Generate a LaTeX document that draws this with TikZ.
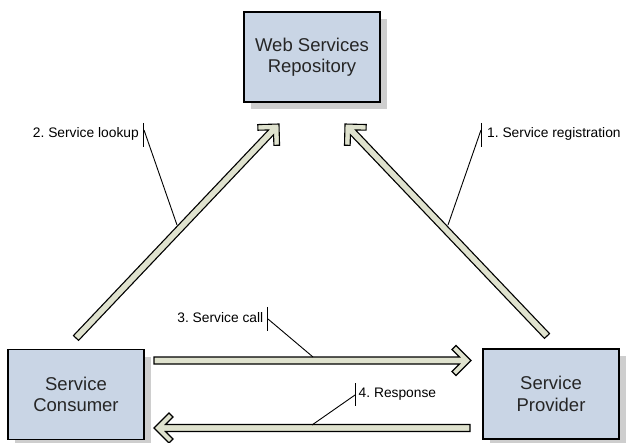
\documentclass[tikz,border=0pt]{standalone}
\usepackage{fontspec}
\setmainfont{Liberation Sans}
\usetikzlibrary{calc,shadows}
\definecolor{boxfill}{RGB}{201,213,229}
\definecolor{shadowgray}{RGB}{206,206,206}
\definecolor{arrowfill}{RGB}{223,226,206}
\newcommand\fatpt[2]{($(\p1)+(\n1:#1)+(\n1+90:#2)$)}
\frenchspacing
\begin{document}
\begin{tikzpicture}[x=1pt,y=-1pt,
 box/.style={draw=black, line width=1.2pt, fill=boxfill, minimum width=136pt, minimum height=90pt,
   inner sep=0pt, outer sep=0pt, align=center, font=\fontsize{18.5}{21.5}\selectfont, text=black!85,
   drop shadow={shadow xshift=7pt, shadow yshift=-7pt, fill=shadowgray, opacity=1}},
 lbl/.style={font=\fontsize{13.8}{16}\selectfont, inner sep=0pt, text=black},
 leader/.style={draw=black, line width=0.9pt},
 fat/.style={draw=black, line width=1.1pt, fill=arrowfill, line join=miter,
   to path={let \p1=(\tikztostart), \p2=(\tikztotarget),
     \n1={atan2(\y2-\y1,\x2-\x1)}, \n2={veclen(\x2-\x1,\y2-\y1)} in
     \fatpt{0pt}{3.5pt} -- \fatpt{\n2-11.5pt}{3.5pt} -- \fatpt{\n2-19pt}{11pt} -- \fatpt{\n2-15pt}{15pt}
     -- \fatpt{\n2}{0pt} -- \fatpt{\n2-15pt}{-15pt} -- \fatpt{\n2-19pt}{-11pt} -- \fatpt{\n2-11.5pt}{-3.5pt}
     -- \fatpt{0pt}{-3.5pt} -- cycle}}]
\useasboundingbox (0,0) rectangle (626,443);

% boxes
\node[box] (repo) at (312,57) {Web Services\\Repository};
\node[box] (cons) at (76,394.5) {Service\\Consumer};
\node[box] (prov) at (551,394) {Service\\Provider};

% arrow end points
\coordinate (t1) at (76,338);   \coordinate (h1) at (279,124);
\coordinate (t2) at (547,336);  \coordinate (h2) at (345,124);
\coordinate (t3) at (154,360.5); \coordinate (h3) at (471,360.5);
\coordinate (t4) at (470,428);  \coordinate (h4) at (154,428);

\path[fat] (t1) to (h1);
\path[fat] (t2) to (h2);
\path[fat] (t3) to (h3);
\path[fat] (t4) to (h4);

% labels
\node[lbl, anchor=east] (l2) at (139,134) {2. Service lookup};
\coordinate (k2a) at (143.5,123); \coordinate (k2b) at (143.5,147);
\coordinate (s2) at (144,130); \coordinate (e2) at (177,225);
\draw[leader] (k2a) -- (k2b);
\draw[leader] (s2) -- (e2);

\node[lbl, anchor=west] (l1) at (487,134) {1. Service registration};
\coordinate (k1a) at (481.5,123); \coordinate (k1b) at (481.5,147);
\coordinate (s1) at (481,130); \coordinate (e1) at (448,225);
\draw[leader] (k1a) -- (k1b);
\draw[leader] (s1) -- (e1);

\node[lbl, anchor=east] (l3) at (263.5,318) {3. Service call};
\coordinate (k3a) at (267.5,307); \coordinate (k3b) at (267.5,331);
\coordinate (s3) at (268,319); \coordinate (e3) at (313,357);
\draw[leader] (k3a) -- (k3b);
\draw[leader] (s3) -- (e3);

\node[lbl, anchor=west] (l4) at (358.5,394) {4. Response};
\coordinate (k4a) at (355,383); \coordinate (k4b) at (355,406);
\coordinate (s4) at (355,395); \coordinate (e4) at (312,425);
\draw[leader] (k4a) -- (k4b);
\draw[leader] (s4) -- (e4);
\end{tikzpicture}
\end{document}
